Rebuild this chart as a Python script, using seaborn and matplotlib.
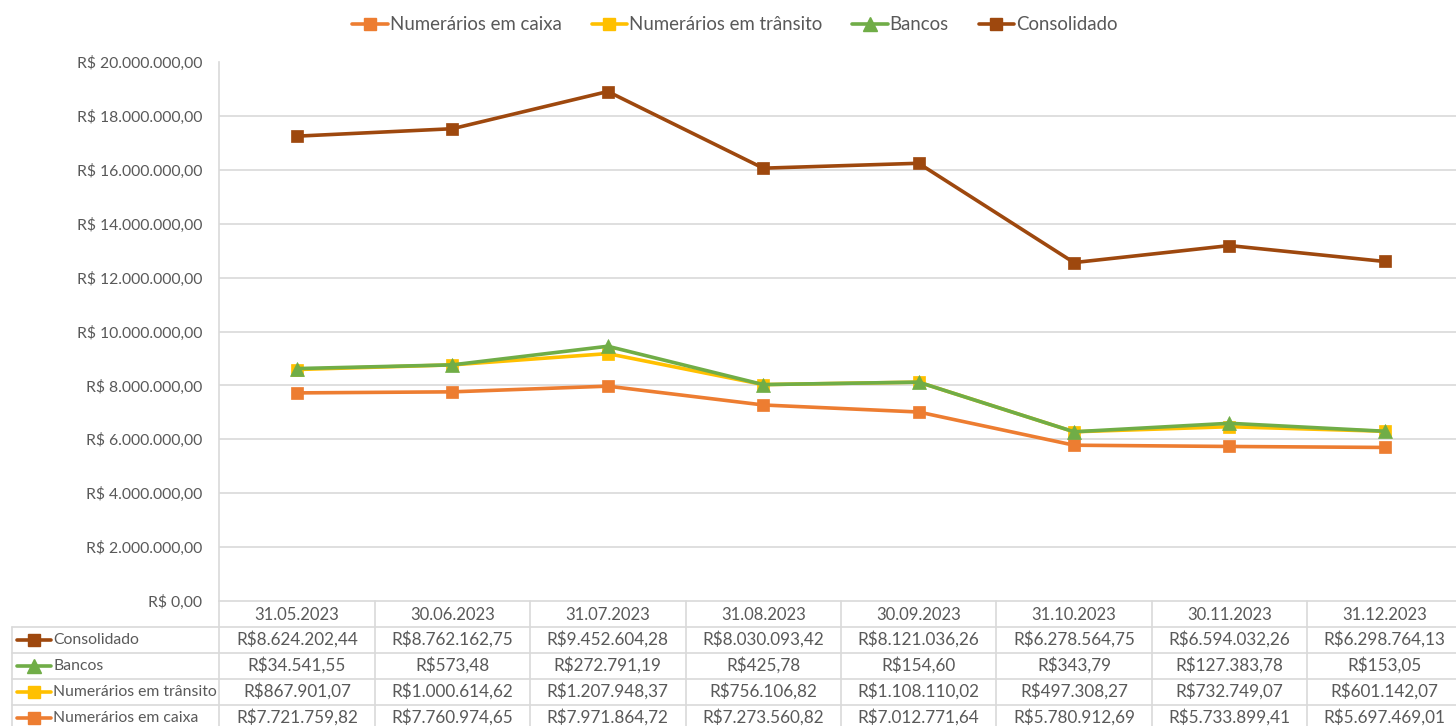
import matplotlib
matplotlib.use("Agg")
import matplotlib.pyplot as plt
import matplotlib.transforms as mtransforms
from matplotlib.lines import Line2D
import numpy as np
import pandas as pd
import seaborn as sns

dates = ["31.05.2023", "30.06.2023", "31.07.2023", "31.08.2023",
         "30.09.2023", "31.10.2023", "30.11.2023", "31.12.2023"]
caixa = [7721759.82, 7760974.65, 7971864.72, 7273560.82,
         7012771.64, 5780912.69, 5733899.41, 5697469.01]
transito = [867901.07, 1000614.62, 1207948.37, 756106.82,
            1108110.02, 497308.27, 732749.07, 601142.07]
bancos = [34541.55, 573.48, 272791.19, 425.78,
          154.60, 343.79, 127383.78, 153.05]
consolidado = [8624202.44, 8762162.75, 9452604.28, 8030093.42,
               8121036.26, 6278564.75, 6594032.26, 6298764.13]

series_names = ["Numerários em caixa", "Numerários em trânsito", "Bancos", "Consolidado"]
colors = ["#ED7D31", "#FFC000", "#70AD47", "#9E480E"]
markers = ["s", "s", "^", "s"]

sns.set_theme(style="white")
plt.rcParams["font.family"] = ["Lato", "DejaVu Sans"]
TXT = "#595959"

fig = plt.figure(figsize=(14.56, 7.26), dpi=100)
W, H = 1456, 726
x0, x1 = 219.3, 1462.5
y0, y1 = 601, 62
ax = fig.add_axes([x0 / W, (H - y0) / H, (x1 - x0) / W, (y0 - y1) / H])

# stacked line chart
raw = [caixa, transito, bancos, consolidado]
stacked = np.cumsum(np.array(raw), axis=0)
xs = np.arange(len(dates))
for name, vals, c, m in zip(series_names, stacked, colors, markers):
    df = pd.DataFrame({"x": xs, "y": vals})
    sns.lineplot(data=df, x="x", y="y", ax=ax, color=c, linewidth=2.6,
                 marker=m, markersize=8.5 if m == "s" else 9.5,
                 markeredgecolor=c, markeredgewidth=0.5, zorder=3)

ax.set_xlim(-0.5, len(dates) - 0.5)
ymax = 20000000 * (601 - 62) / (601 - 60.5)
ax.set_ylim(0, ymax)
yt = np.arange(0, 20000001, 2000000)
ax.set_yticks(yt)

def fmt(v, space=True):
    s = f"{v:,.2f}".replace(",", "X").replace(".", ",").replace("X", ".")
    return ("R$ " if space else "R$") + s

ax.set_yticklabels([fmt(v) for v in yt], fontsize=11.3, color=TXT)
ax.tick_params(axis="y", length=0, pad=12.5)
ax.set_xticks([])
ax.set_xlabel("")
ax.set_ylabel("")
for v in yt[1:-1]:
    ax.axhline(v, color="#D9D9D9", lw=1.2, zorder=1)
for s in ["top", "right", "bottom"]:
    ax.spines[s].set_visible(False)
ax.spines["left"].set_color("#D9D9D9")
ax.spines["left"].set_linewidth(1.2)

# data table drawn in figure pixel coords
tr = mtransforms.Affine2D().scale(1.0 / W, 1.0 / H) + fig.transFigure
def fy(y):
    return H - y
grid_c = "#D9D9D9"
col_w = (x1 - x0) / len(dates)
row_edges = [601, 627, 653, 679, 705, 731]
left_x = 12
fig.add_artist(Line2D([x0, x1], [fy(601)] * 2, color=grid_c, lw=1.2, transform=tr))
for ry in row_edges[1:]:
    fig.add_artist(Line2D([left_x, x1], [fy(ry)] * 2, color=grid_c, lw=1.2, transform=tr))
for i in range(len(dates) + 1):
    xv = x0 + i * col_w
    fig.add_artist(Line2D([xv, xv], [fy(601), fy(731)], color=grid_c, lw=1.2, transform=tr))
fig.add_artist(Line2D([left_x, left_x], [fy(627), fy(731)], color=grid_c, lw=1.2, transform=tr))

for i, d in enumerate(dates):
    fig.text((x0 + (i + 0.5) * col_w) / W, fy(614.5) / H, d, ha="center", va="center",
             fontsize=12, color=TXT)

table_rows = [("Consolidado", consolidado, colors[3], "s"),
              ("Bancos", bancos, colors[2], "^"),
              ("Numerários em trânsito", transito, colors[1], "s"),
              ("Numerários em caixa", caixa, colors[0], "s")]
for r, (name, vals, c, m) in enumerate(table_rows):
    yc = (row_edges[r + 1] + row_edges[r + 2]) / 2 - 0.5
    fig.add_artist(Line2D([17, 51], [fy(yc)] * 2, color=c, lw=2.6, transform=tr))
    fig.add_artist(Line2D([34], [fy(yc)], color=c, marker=m,
                          markersize=8.5 if m == "s" else 9.5, markeredgecolor=c,
                          lw=0, transform=tr))
    fig.text(53 / W, fy(yc) / H, name, ha="left", va="center", fontsize=11.3, color=TXT)
    for i, v in enumerate(vals):
        fig.text((x0 + (i + 0.5) * col_w) / W, fy(yc) / H, fmt(v, space=False),
                 ha="center", va="center", fontsize=12.3, color=TXT)

# legend
handles = [Line2D([0], [0], color=c, lw=2.6, marker=m,
                  markersize=9 if m == "s" else 10, markeredgecolor=c)
           for c, m in zip(colors, markers)]
leg = fig.legend(handles, series_names, loc="center", bbox_to_anchor=(735 / W, fy(25) / H),
                 ncol=4, frameon=False, fontsize=13.4, handlelength=1.9,
                 handletextpad=0.12, columnspacing=1.6)
for t in leg.get_texts():
    t.set_color(TXT)

fig.savefig("out.png", dpi=100)
